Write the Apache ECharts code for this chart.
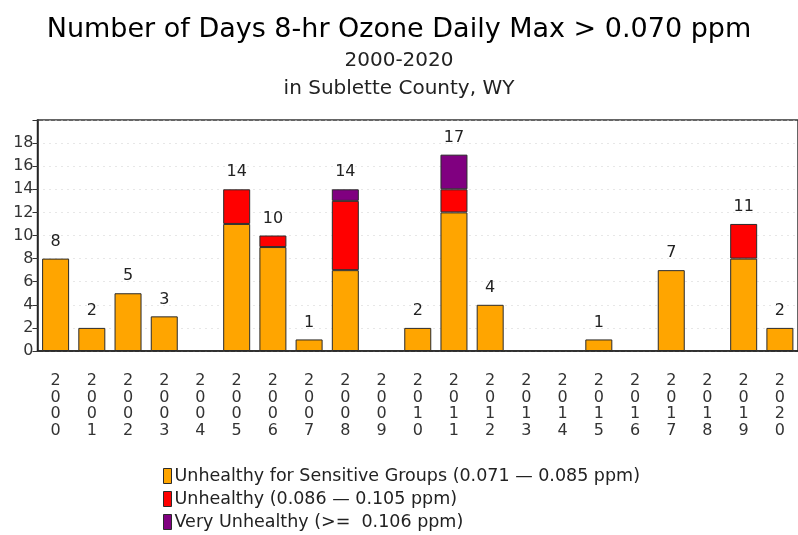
<!DOCTYPE html>
<html>
<head>
<meta charset="utf-8">
<script src="https://cdn.jsdelivr.net/npm/echarts@6/dist/echarts.min.js"></script>
<style>
  html, body { margin: 0; padding: 0; background: #fff; }
  #chart { width: 798px; height: 535px; }
</style>
</head>
<body>
<div id="chart"></div>
<script>
// years 2000-2020
const years = ['2000','2001','2002','2003','2004','2005','2006','2007','2008','2009','2010',
               '2011','2012','2013','2014','2015','2016','2017','2018','2019','2020'];
// days per category
const sensitiveDays = [8, 2, 5, 3, 0, 11, 9, 1, 7, 0, 2, 12, 4, 0, 0, 1, 0, 7, 0, 8, 2];
const unhealthyDays = [0, 0, 0, 0, 0, 3, 1, 0, 6, 0, 0, 2, 0, 0, 0, 0, 0, 0, 0, 3, 0];
const veryUnhealthyDays = [0, 0, 0, 0, 0, 0, 0, 0, 1, 0, 0, 3, 0, 0, 0, 0, 0, 0, 0, 0, 0];
const seriesNames = [
    'Unhealthy for Sensitive Groups (0.071 \u2014 0.085 ppm)',
    'Unhealthy (0.086 \u2014 0.105 ppm)',
    'Very Unhealthy (>=  0.106 ppm)'
];
const yTicks = [0, 2, 4, 6, 8, 10, 12, 14, 16, 18];

const totals = years.map((y, i) => sensitiveDays[i] + unhealthyDays[i] + veryUnhealthyDays[i]);

const chart = echarts.init(document.getElementById('chart'));
const font = 'DejaVu Sans';

function stackSeries(name, data, color) {
    return {
        name: name,
        type: 'bar',
        stack: 'days',
        barWidth: 27,
        data: data.map(v => v === 0 ? null : v),
        itemStyle: { color: color, borderColor: '#2b2b2b', borderWidth: 1 },
        emphasis: { disabled: true },
        z: 2
    };
}

chart.setOption({
    animation: false,
    title: [{
        text: 'Number of Days 8-hr Ozone Daily Max > 0.070 ppm',
        left: 'center',
        top: 11,
        textStyle: { fontFamily: font, fontSize: 27, fontWeight: 'normal', color: '#000' }
    }, {
        text: '2000-2020\nin Sublette County, WY',
        left: 'center',
        top: 42,
        textStyle: { fontFamily: font, fontSize: 20, fontWeight: 'normal', color: '#222', lineHeight: 28 }
    }],
    legend: {
        orient: 'vertical',
        left: 158,
        top: 462,
        height: 120,
        itemWidth: 8,
        itemHeight: 15,
        itemGap: 5,
        icon: 'rect',
        data: seriesNames,
        itemStyle: { borderColor: '#2b2b2b', borderWidth: 1 },
        textStyle: { fontFamily: font, fontSize: 17.5, lineHeight: 18, color: '#222', padding: [0, 0, 0, -2] }
    },
    grid: {
        left: 37.5,
        right: -7.5,
        top: 120,
        bottom: 184,
        show: true,
        borderColor: '#333',
        borderWidth: 1.5,
        containLabel: false
    },
    xAxis: {
        type: 'category',
        data: years,
        axisLine: { lineStyle: { color: '#222', width: 1.5 } },
        axisTick: { show: false },
        axisLabel: {
            interval: 0,
            margin: 22,
            fontFamily: font,
            fontSize: 16,
            lineHeight: 16.5,
            color: '#333',
            formatter: v => v.split('').join('\n')
        }
    },
    yAxis: {
        type: 'value',
        min: 0,
        max: 20,
        interval: 2,
        axisLine: { show: true, lineStyle: { color: '#222', width: 1.5 } },
        axisTick: { show: true, length: 5, lineStyle: { color: '#333' } },
        axisLabel: {
            margin: 4,
            fontFamily: font,
            fontSize: 16,
            color: '#333',
            formatter: v => yTicks.indexOf(v) >= 0 ? String(v) : ''
        },
        splitLine: { show: true, lineStyle: { color: '#cfcfcf', type: [1, 5], width: 1 } }
    },
    series: [
        stackSeries(seriesNames[0], sensitiveDays, '#FFA500'),
        stackSeries(seriesNames[1], unhealthyDays, '#FF0000'),
        stackSeries(seriesNames[2], veryUnhealthyDays, '#800080'),
        {
            name: 'total',
            type: 'bar',
            barWidth: 27,
            barGap: '-100%',
            data: totals.map(v => v === 0 ? null : v),
            itemStyle: { color: 'rgba(0,0,0,0)' },
            emphasis: { disabled: true },
            z: 1,
            label: {
                show: true,
                position: 'top',
                distance: 9,
                fontFamily: font,
                fontSize: 16,
                color: '#222'
            }
        }
    ]
});
</script>
</body>
</html>
